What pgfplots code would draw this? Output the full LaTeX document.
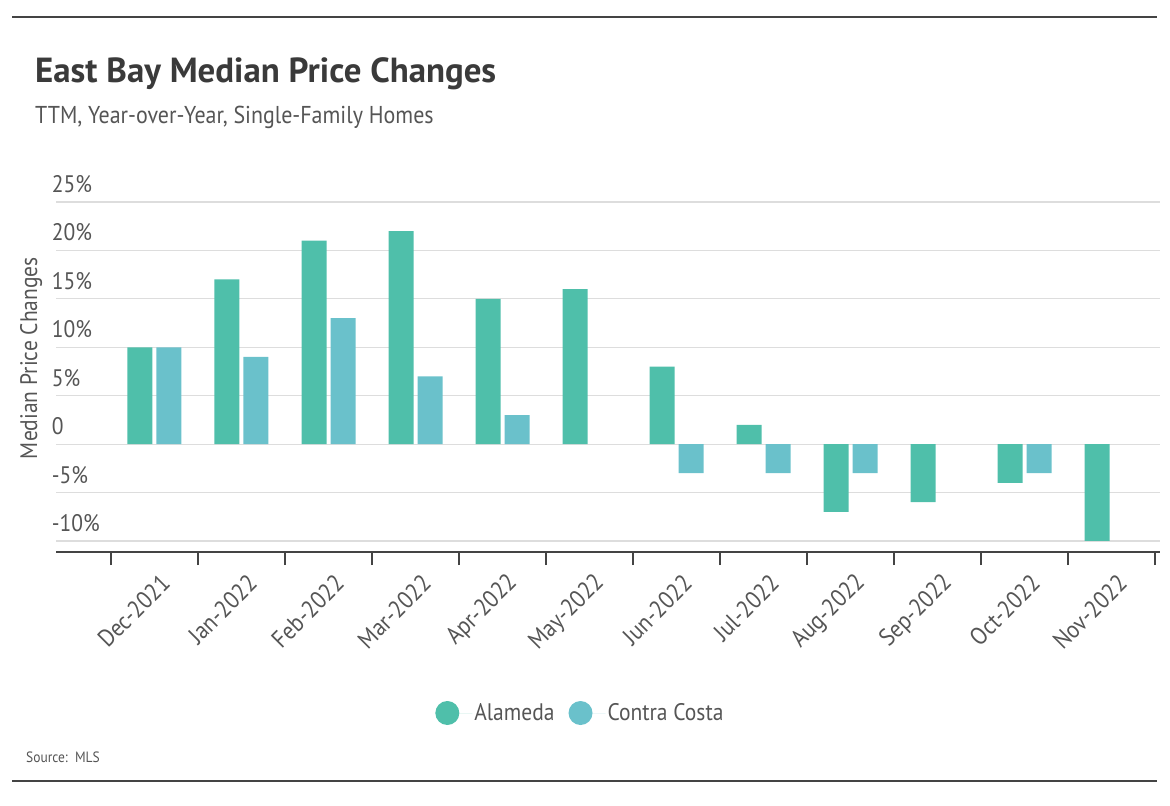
\documentclass[border=0pt]{standalone}
\usepackage{pgfplots}
\pgfplotsset{compat=1.18}
\usepackage{fontspec}
\setmainfont[FakeStretch=0.9]{PT Sans}
\newfontfamily\titlefont{PT Sans}
\definecolor{cA}{HTML}{4FBFAA}
\definecolor{cB}{HTML}{6AC1CB}
\definecolor{txt}{HTML}{3A3A3A}
\definecolor{sub}{HTML}{555555}
\definecolor{gridc}{HTML}{DDDDDD}
\definecolor{rule}{HTML}{444444}
\begin{document}
\begin{tikzpicture}
\path[use as bounding box] (0,0) rectangle (1170bp,-806bp);
\draw[rule, line width=2bp] (12bp,-17bp) -- (1157bp,-17bp);
\draw[rule, line width=2bp] (12bp,-781bp) -- (1157bp,-781bp);
\node[anchor=base west, inner sep=0pt, text=txt, font=\titlefont\fontsize{35}{40}\selectfont\bfseries] at (35bp,-82bp) {East Bay Median Price Changes};
\node[anchor=base west, inner sep=0pt, text=sub, font=\fontsize{24.5}{28}\selectfont] at (35bp,-123bp) {TTM, Year-over-Year, Single-Family Homes};
\node[anchor=base west, inner sep=0pt, text=sub, font=\fontsize{15}{18}\selectfont] at (26bp,-762bp) {Source:\ \ MLS};
\begin{axis}[
  at={(56bp,-552bp)}, anchor=south west,
  scale only axis, width=1104bp, height=350bp,
  xmin=-1.132, xmax=11.557, ymin=-11.14, ymax=25,
  axis x line*=bottom, axis y line*=left,
  x axis line style={draw=rule, line width=2.2bp},
  y axis line style={draw=none},
  ybar, bar width=25bp,
  xtick={0,...,11},
  xticklabels={Dec-2021,Jan-2022,Feb-2022,Mar-2022,Apr-2022,May-2022,Jun-2022,Jul-2022,Aug-2022,Sep-2022,Oct-2022,Nov-2022},
  major x tick style={draw=none},
  minor xtick={-0.5,0.5,...,11.5},
  minor x tick style={draw=rule, line width=1.5bp},
  minor tick length=13bp,
  tick align=outside,
  xticklabel style={rotate=45, anchor=east, text=sub, font=\fontsize{24.5}{28}\selectfont, xshift=-5bp, yshift=-24bp},
  ytick={-10,-5,0,5,10,15,20,25},
  yticklabels={-10\%,-5\%,0,5\%,10\%,15\%,20\%,25\%},
  yticklabel style={anchor=south west, inner sep=0pt, xshift=0bp, yshift=9bp, text=sub, font=\fontsize{24}{28}\selectfont},
  major y tick style={draw=none},
  ymajorgrids, grid style={draw=gridc, line width=1.2bp},
  ylabel={Median Price Changes},
  every axis y label/.style={at={(axis description cs:-0.0226,0.554)}, rotate=90, anchor=center, text=sub, font=\fontsize{24}{28}\selectfont},
  legend style={at={(axis description cs:0.475,-0.46)}, anchor=center, draw=none, fill=none, font=\fontsize{24}{28}\selectfont, text=sub, legend columns=2, /tikz/every even column/.append style={column sep=12bp}},
  legend cell align=left,
]
\addplot[fill=cA, draw=none, bar shift=-14.5bp,
  legend image code/.code={\fill[cA] (0bp,0bp) circle (12bp); \path (-12bp,0bp) -- (25bp,0bp);}]
  coordinates {(0,10) (1,17) (2,21) (3,22) (4,15) (5,16) (6,8) (7,2) (8,-7) (9,-6) (10,-4) (11,-10)};
\addplot[fill=cB, draw=none, bar shift=14.5bp,
  legend image code/.code={\fill[cB] (0bp,0bp) circle (12bp); \path (-12bp,0bp) -- (25bp,0bp);}]
  coordinates {(0,10) (1,9) (2,13) (3,7) (4,3) (6,-3) (7,-3) (8,-3) (10,-3)};
\legend{Alameda,Contra Costa}
\end{axis}
\end{tikzpicture}
\end{document}
